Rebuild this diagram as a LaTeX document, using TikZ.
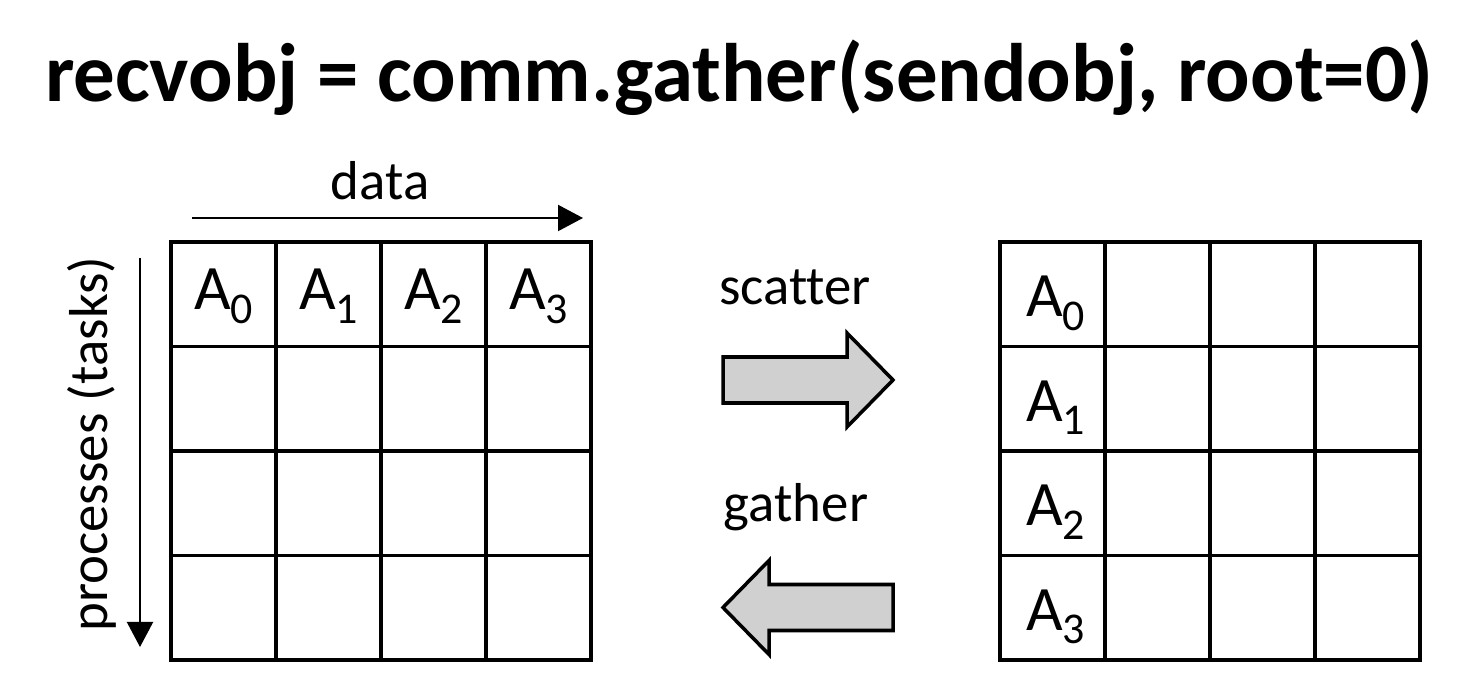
\documentclass[tikz,border=0pt]{standalone}
\usepackage{fontspec}
\setmainfont{Carlito}[Ligatures=NoCommon]
\usetikzlibrary{arrows.meta}
\definecolor{arrowgray}{RGB}{208,208,208}
\newcommand{\asub}[1]{A\raisebox{-3.8pt}{\fontsize{12.5}{12.5}\selectfont #1}}

\begin{document}
\begin{tikzpicture}[
        cell/.style={draw, line width=1pt, minimum width=1.05cm, minimum height=1.045cm, inner sep=0pt, outer sep=0pt},
        lbl/.style={font=\fontsize{18}{18}\selectfont, inner sep=0pt, anchor=base},
        tag/.style={font=\fontsize{15.6}{15.6}\selectfont, inner sep=0pt, anchor=base},
        axis/.style={-{Triangle[length=0.25cm, width=0.26cm]}, line width=0.6pt},
        block/.style={draw, line width=1pt, fill=arrowgray, line join=miter}
    ]
        \useasboundingbox (0,0) rectangle (14.78,6.93);

        % 标题
        \node[font=\fontsize{23.6}{28}\selectfont\bfseries, inner sep=0pt, anchor=base] (title) at (7.39,5.91) {recvobj = comm.gather(sendobj, root=0)};

        % 左侧矩阵
        \foreach \r in {1,...,4}
            \foreach \c in {1,...,4}
                \node[cell] (L-\r-\c) at ({1.71+1.05*(\c-0.5)}, {4.51-1.045*(\r-0.5)}) {};
        \foreach \c [evaluate=\c as \i using int(\c-1)] in {1,...,4}
            \node[lbl] (LA-\c) at ([yshift=-0.68cm]L-1-\c.north) {\asub{\i}};

        % 右侧矩阵
        \foreach \r in {1,...,4}
            \foreach \c in {1,...,4}
                \node[cell] (R-\r-\c) at ({10.00+1.05*(\c-0.5)}, {4.51-1.045*(\r-0.5)}) {};
        \foreach \r [evaluate=\r as \i using int(\r-1)] in {1,...,4}
            \node[lbl] (RA-\r) at ([xshift=0.03cm, yshift=-0.75cm]R-\r-1.north) {\asub{\i}};

        % 坐标轴
        \coordinate (data-s) at (1.92,4.75);
        \coordinate (data-e) at (5.83,4.75);
        \draw[axis] (data-s) -- (data-e);
        \node[tag] (data) at (3.80,4.93) {data};

        \coordinate (proc-s) at (1.40,4.35);
        \coordinate (proc-e) at (1.40,0.46);
        \draw[axis] (proc-s) -- (proc-e);
        \node[tag, rotate=90] (proc) at (1.07,2.49) {processes (tasks)};

        % 块状箭头
        \node[tag] (scatter) at (7.95,3.88) {scatter};
        \draw[block] (7.23,2.90) -- (8.47,2.90) -- (8.47,2.66) -- (8.93,3.13) -- (8.47,3.60) -- (8.47,3.36) -- (7.23,3.36) -- cycle;

        \node[tag] (gather) at (7.96,1.71) {gather};
        \draw[block] (8.93,0.625) -- (7.69,0.625) -- (7.69,0.385) -- (7.23,0.855) -- (7.69,1.325) -- (7.69,1.085) -- (8.93,1.085) -- cycle;
    \end{tikzpicture}
\end{document}
